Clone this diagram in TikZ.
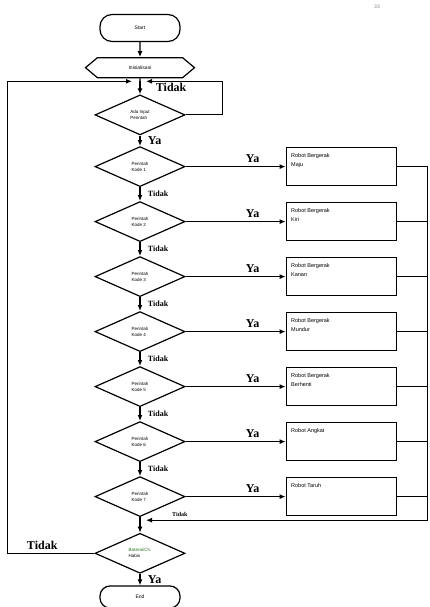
\documentclass[tikz,border=0pt]{standalone}
\usepackage{fontspec}
\setmainfont{Liberation Serif}
\setsansfont{Liberation Sans}
\usetikzlibrary{shapes.geometric, shapes.symbols, arrows.meta, positioning}
\definecolor{LabelGreen}{RGB}{40,110,40}

\newcommand{\actiontext}[1]{\parbox[t][26pt][t]{100pt}{#1}}

\begin{document}
\begin{tikzpicture}[x=1pt, y=-1pt,
          terminal/.style={rectangle, draw, line width=1.2pt, rounded corners=12pt, minimum width=80pt, minimum height=27pt, font=\sffamily\fontsize{5}{6}\selectfont},
          prep/.style={signal, signal to=west and east, signal pointer angle=80, draw, line width=1.2pt, minimum width=109pt, minimum height=20pt, inner sep=0pt, font=\sffamily\fontsize{5}{6}\selectfont},
          decision/.style={diamond, draw, line width=1.2pt, minimum width=90pt, minimum height=40pt, aspect=2.25, inner sep=0pt, align=left, font=\sffamily\fontsize{4.5}{6}\selectfont},
          action/.style={rectangle, draw, line width=1.2pt, minimum width=110pt, minimum height=38pt, inner sep=4pt, font=\sffamily\fontsize{5.5}{9}\selectfont},
          arrow/.style={-{Latex[length=6pt,width=5pt]}, line width=1.2pt},
          line/.style={line width=1.2pt},
          yes/.style={font=\bfseries\fontsize{12}{12}\selectfont},
          bigno/.style={font=\bfseries\fontsize{12}{12}\selectfont},
          no/.style={font=\bfseries\fontsize{8}{8}\selectfont},
          smallno/.style={font=\bfseries\fontsize{6}{6}\selectfont}
        ]
          \useasboundingbox (0,0) rectangle (429,607);

          \node (start) [terminal] at (140,28) {Start};
          \node (init) [prep, below=15pt of start] {Inisialisasi};
          \node (ada) [decision, below=16pt of init] {Ada Input\\Perintah};
          \node (kode1) [decision, below=10.5pt of ada] {Perintah\\Kode 1};
          \node (kode2) [decision, below=13.8pt of kode1] {Perintah\\Kode 2};
          \node (kode3) [decision, below=13.8pt of kode2] {Perintah\\Kode 3};
          \node (kode4) [decision, below=13.8pt of kode3] {Perintah\\Kode 4};
          \node (kode5) [decision, below=13.8pt of kode4] {Perintah\\Kode 5};
          \node (kode6) [decision, below=13.8pt of kode5] {Perintah\\Kode 6};
          \node (kode7) [decision, below=13.8pt of kode6] {Perintah\\Kode 7};
          \node (selesai) [decision, below=15.5pt of kode7] {\textcolor{LabelGreen}{Baterai/Ch.}\\Habis};
          \node (end) [terminal, minimum height=22pt, rounded corners=10pt, below=11.5pt of selesai] {End};

          \node (maju) [action, right=100pt of kode1] {\actiontext{Robot Bergerak\\Maju}};
          \node (kiri) [action, right=100pt of kode2] {\actiontext{Robot Bergerak\\Kiri}};
          \node (kanan) [action, right=100pt of kode3] {\actiontext{Robot Bergerak\\Kanan}};
          \node (mundur) [action, right=100pt of kode4] {\actiontext{Robot Bergerak\\Mundur}};
          \node (berhenti) [action, right=100pt of kode5] {\actiontext{Robot Bergerak\\Berhenti}};
          \node (angkat) [action, right=100pt of kode6] {\actiontext{Robot Angkat}};
          \node (taruh) [action, right=100pt of kode7] {\actiontext{Robot Taruh}};

          \node (page) [font=\sffamily\fontsize{5}{5}\selectfont, text=gray] at (377,7) {33};

          \coordinate [below=3pt of init] (join);
          \coordinate [below=3pt of kode7] (merge);

          \draw [arrow] (start) -- (init);
          \draw [line] (init) -- (join);
          \draw [arrow] (join) -- node[right=12pt, pos=0.45, bigno] {Tidak} (ada);
          \draw [arrow] (ada.east) -- ++(37pt,0) |- ([xshift=6pt]join);
          \draw [arrow] (selesai.west) -- node[above, pos=0.6, bigno] {Tidak} ++(-87pt,0) |- ([xshift=-8pt]join);

          \draw [arrow] (ada) -- node[right=4pt, yes] {Ya} (kode1);
          \foreach \a/\b in {kode1/kode2, kode2/kode3, kode3/kode4, kode4/kode5, kode5/kode6, kode6/kode7}
            \draw [arrow] (\a) -- node[right=4pt, no] {Tidak} (\b);
          \draw [line] (kode7) -- (merge);

          \foreach \k/\b in {kode1/maju, kode2/kiri, kode3/kanan, kode4/mundur, kode5/berhenti, kode6/angkat, kode7/taruh}
            \draw [arrow] (\k) -- node[above, pos=0.67, yes] {Ya} (\b);

          \draw [arrow] (maju.east) -- ++(31pt,0) |- node[pos=0.94, above, smallno] {Tidak} ([xshift=6pt]merge);
          \foreach \b in {kiri, kanan, mundur, berhenti, angkat, taruh}
            \draw [line] (\b.east) -- ++(31pt,0);

          \draw [arrow] (merge) -- (selesai);
          \draw [arrow] (selesai) -- node[right=4pt, yes] {Ya} (end);
        \end{tikzpicture}
\end{document}
